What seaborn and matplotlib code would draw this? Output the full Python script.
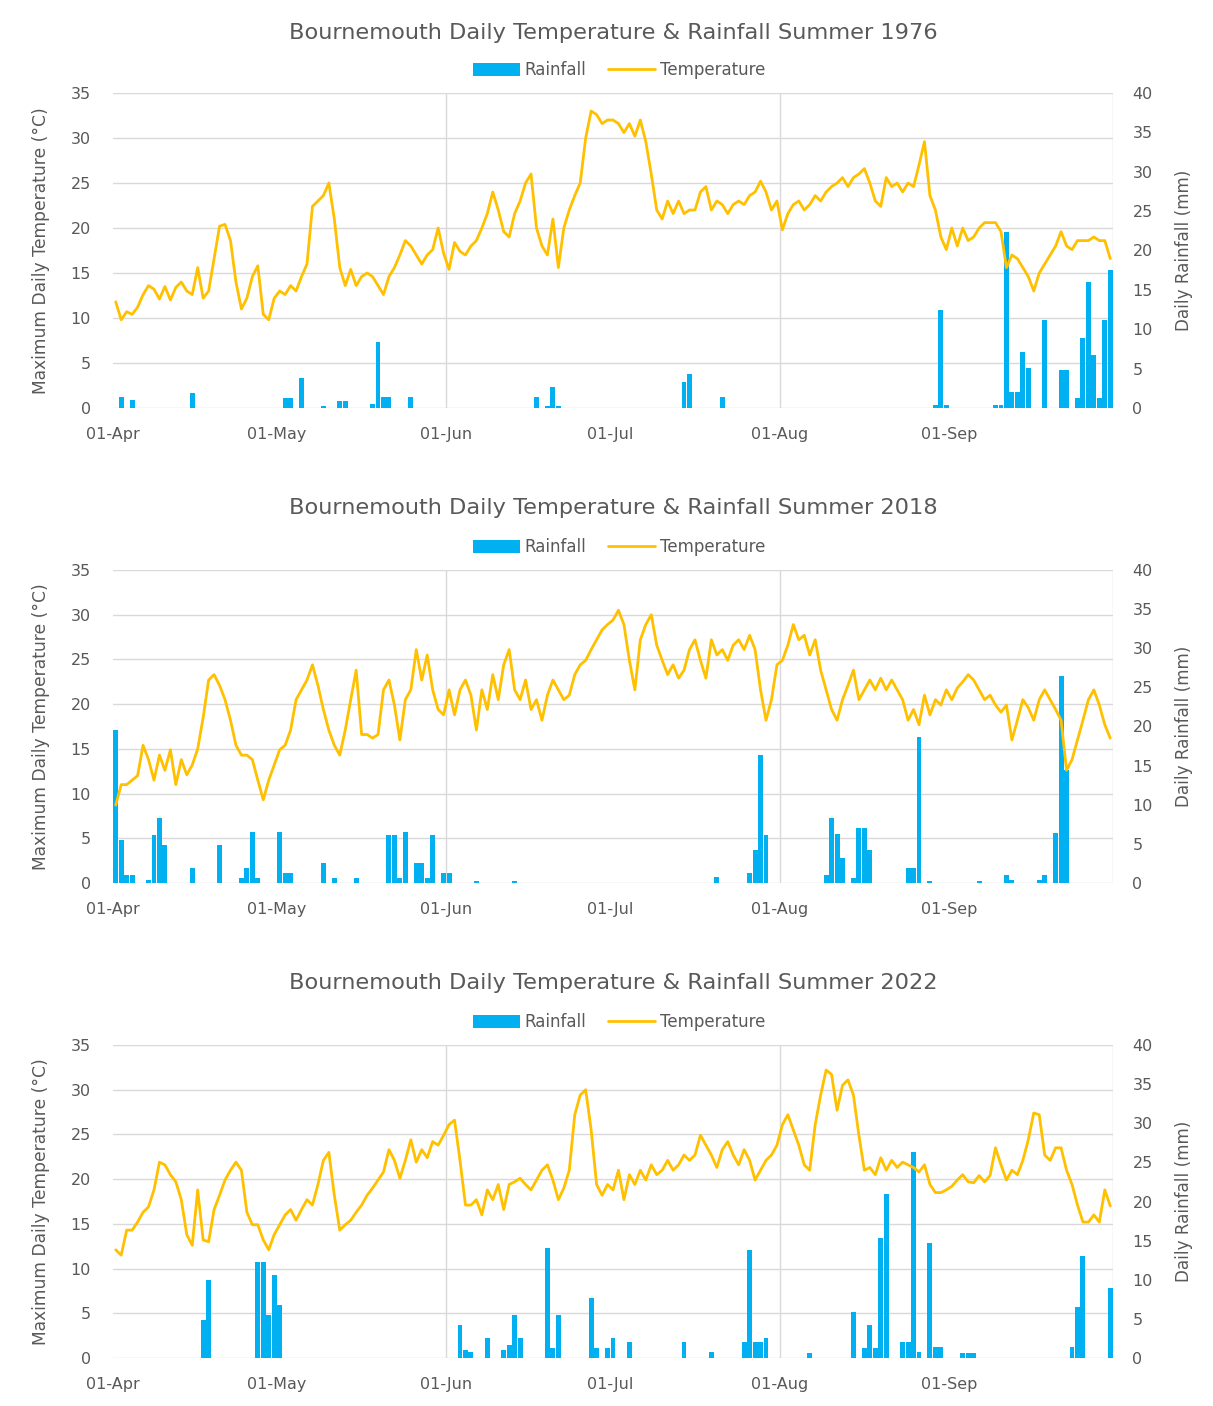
import numpy as np
import pandas as pd
import matplotlib
matplotlib.use("Agg")
import matplotlib.pyplot as plt
import seaborn as sns

sns.set_theme(style="white")
plt.rcParams["font.family"] = ["DejaVu Sans"]

# ---------------------------------------------------------------- data
month_labels = ["01-Apr", "01-May", "01-Jun", "01-Jul", "01-Aug", "01-Sep"]
month_start_days = [0, 30, 61, 91, 122, 153]   # day index of each month start (1 Apr = 0)
years = [1976, 2018, 2022]

# daily maximum temperature (°C), 1 Apr - 30 Sep
temp_1976 = (
    [11.8, 9.8, 10.7, 10.4, 11.2, 12.6, 13.6, 13.2, 12.1, 13.5, 12.0, 13.4, 14.0, 13.0, 12.6,
     15.6, 12.2, 13.0, 16.6, 20.2, 20.4, 18.6, 14.0, 11.0, 12.2, 14.6, 15.8, 10.4, 9.8, 12.2]
    + [13.0, 12.6, 13.6, 13.0, 14.6, 16.0, 22.4, 23.0, 23.6, 25.0, 21.0, 15.6, 13.6, 15.4, 13.6, 14.6,
       15.0, 14.6, 13.6, 12.6, 14.6, 15.6, 17.0, 18.6, 18.0, 17.0, 16.0, 17.0, 17.6, 20.0, 17.2]
    + [15.4, 18.4, 17.4, 17.0, 18.0, 18.6, 20.0, 21.6, 24.0, 22.0, 19.6, 19.0, 21.6, 23.0, 25.0,
       26.0, 20.0, 18.0, 17.0, 21.0, 15.6, 20.0, 22.0, 23.6, 25.0, 30.0, 33.0, 32.6, 31.6, 32.0]
    + [32.0, 31.6, 30.6, 31.6, 30.2, 32.0, 29.6, 26.0, 22.0, 21.0, 23.0, 21.6, 23.0, 21.6, 22.0, 22.0,
       24.0, 24.6, 22.0, 23.0, 22.6, 21.6, 22.6, 23.0, 22.6, 23.6, 24.0, 25.2, 24.0, 22.0, 23.0]
    + [19.8, 21.6, 22.6, 23.0, 22.0, 22.6, 23.6, 23.0, 24.0, 24.6, 25.0, 25.6, 24.6, 25.6, 26.0, 26.6,
       25.0, 23.0, 22.4, 25.6, 24.6, 25.0, 24.0, 25.0, 24.6, 27.0, 29.6, 23.6, 22.0, 19.0, 17.6]
    + [20.0, 18.0, 20.0, 18.6, 19.0, 20.0, 20.6, 20.6, 20.6, 19.6, 15.6, 17.0, 16.6, 15.6, 14.6,
       13.0, 15.0, 16.0, 17.0, 18.0, 19.6, 18.0, 17.6, 18.6, 18.6, 18.6, 19.0, 18.6, 18.6, 16.6]
)
temp_2018 = (
    [8.7, 11.0, 11.0, 11.5, 12.0, 15.4, 13.8, 11.5, 14.3, 12.6, 14.9, 11.0, 13.8, 12.1, 13.2,
     15.0, 18.5, 22.7, 23.3, 22.1, 20.5, 18.2, 15.4, 14.3, 14.3, 13.8, 11.5, 9.3, 11.5, 13.2]
    + [14.9, 15.4, 17.1, 20.5, 21.6, 22.7, 24.4, 22.1, 19.4, 17.1, 15.4, 14.3, 17.1, 20.5, 23.8, 16.6,
       16.6, 16.2, 16.6, 21.6, 22.7, 19.9, 16.0, 20.5, 21.6, 26.1, 22.7, 25.5, 21.6, 19.4, 18.8]
    + [21.6, 18.8, 21.6, 22.7, 21.0, 17.1, 21.6, 19.4, 23.3, 20.5, 24.4, 26.1, 21.6, 20.5, 22.7,
       19.4, 20.5, 18.2, 21.0, 22.7, 21.6, 20.5, 21.0, 23.3, 24.4, 24.9, 26.1, 27.2, 28.3, 28.9]
    + [29.4, 30.5, 28.9, 24.9, 21.6, 27.2, 28.9, 30.0, 26.6, 24.9, 23.3, 24.4, 22.9, 23.8, 26.1, 27.2,
       24.9, 22.9, 27.2, 25.5, 26.1, 24.9, 26.6, 27.2, 26.1, 27.7, 26.1, 21.6, 18.2, 20.5, 24.4]
    + [24.9, 26.6, 28.9, 27.2, 27.7, 25.5, 27.2, 23.8, 21.6, 19.4, 18.2, 20.5, 22.1, 23.8, 20.5, 21.6,
       22.7, 21.6, 22.9, 21.6, 22.7, 21.6, 20.5, 18.2, 19.4, 17.7, 21.0, 18.8, 20.5, 19.9, 21.6]
    + [20.5, 21.8, 22.5, 23.3, 22.7, 21.6, 20.5, 21.0, 19.9, 19.1, 19.9, 16.0, 18.2, 20.5, 19.6,
       18.2, 20.5, 21.6, 20.5, 19.4, 18.2, 12.6, 13.8, 16.0, 18.2, 20.5, 21.6, 19.9, 17.7, 16.2]
)
temp_2022 = (
    [12.1, 11.5, 14.3, 14.3, 15.2, 16.3, 16.9, 18.8, 21.9, 21.6, 20.5, 19.7, 17.7, 13.8, 12.6,
     18.8, 13.2, 13.0, 16.6, 18.2, 19.9, 21.0, 21.9, 21.0, 16.3, 14.9, 14.9, 13.2, 12.1, 13.8]
    + [14.9, 16.0, 16.6, 15.4, 16.6, 17.7, 17.1, 19.4, 22.1, 23.0, 18.2, 14.3, 14.9, 15.4, 16.3, 17.1,
       18.2, 19.0, 19.9, 20.8, 23.3, 22.1, 20.1, 22.1, 24.4, 21.9, 23.3, 22.4, 24.2, 23.8, 24.9]
    + [26.1, 26.6, 22.1, 17.1, 17.1, 17.7, 16.0, 18.8, 17.7, 19.4, 16.6, 19.4, 19.7, 20.1, 19.4,
       18.8, 19.9, 21.0, 21.6, 19.9, 17.7, 19.0, 21.0, 27.2, 29.4, 30.0, 25.5, 19.4, 18.2, 19.4]
    + [18.8, 21.0, 17.7, 20.5, 19.4, 21.0, 19.9, 21.6, 20.5, 21.0, 22.1, 21.0, 21.6, 22.7, 22.1, 22.7,
       24.9, 23.8, 22.7, 21.3, 23.3, 24.2, 22.7, 21.6, 23.3, 22.1, 19.9, 21.0, 22.1, 22.7, 23.8]
    + [26.1, 27.2, 25.5, 23.8, 21.6, 21.0, 26.1, 29.4, 32.2, 31.7, 27.7, 30.5, 31.1, 29.4, 24.9, 21.0,
       21.3, 20.5, 22.4, 21.0, 22.1, 21.3, 21.9, 21.6, 21.3, 20.8, 21.6, 19.4, 18.5, 18.5, 18.8]
    + [19.2, 19.9, 20.5, 19.7, 19.6, 20.4, 19.7, 20.4, 23.5, 21.6, 19.9, 21.0, 20.5, 22.1, 24.4,
       27.4, 27.2, 22.7, 22.1, 23.5, 23.5, 21.0, 19.4, 17.1, 15.2, 15.2, 16.0, 15.2, 18.8, 17.0]
)

# daily rainfall (mm), 1 Apr - 30 Sep
rain_1976 = (
    [0, 1.4, 0, 1.0, 0, 0, 0, 0, 0, 0, 0, 0, 0, 0, 1.9, 0, 0, 0, 0, 0, 0, 0, 0, 0, 0, 0, 0, 0, 0, 0]
    + [0, 1.3, 1.3, 0, 3.8, 0, 0, 0, 0.3, 0, 0, 0.9, 0.9, 0, 0, 0, 0, 0.5, 8.4, 1.4, 1.4, 0, 0, 0,
       1.4, 0, 0, 0, 0, 0, 0]
    + [0, 0, 0, 0, 0, 0, 0, 0, 0, 0, 0, 0, 0, 0, 0, 0, 1.4, 0, 0.3, 2.7, 0.3, 0, 0, 0, 0, 0, 0, 0, 0, 0]
    + [0, 0, 0, 0, 0, 0, 0, 0, 0, 0, 0, 0, 0, 3.3, 4.3, 0, 0, 0, 0, 0, 1.4, 0, 0, 0, 0, 0, 0, 0, 0, 0, 0]
    + [0, 0, 0, 0, 0, 0, 0, 0, 0, 0, 0, 0, 0, 0, 0, 0, 0, 0, 0, 0, 0, 0, 0, 0, 0, 0, 0, 0, 0.4, 12.4, 0.4]
    + [0, 0, 0, 0, 0, 0, 0, 0, 0.4, 0.4, 22.3, 2.0, 2.0, 7.1, 5.1, 0, 0, 11.2, 0, 0, 4.8, 4.8, 0, 1.3,
       8.9, 16.0, 6.7, 1.3, 11.2, 17.5]
)
rain_2018 = (
    [19.6, 5.5, 1.0, 1.0, 0, 0, 0.4, 6.1, 8.3, 4.9, 0, 0, 0, 0, 1.9, 0, 0, 0, 0, 4.9, 0, 0, 0, 0.6,
     1.9, 6.5, 0.6, 0, 0, 0]
    + [6.5, 1.3, 1.3, 0, 0, 0, 0, 0, 2.6, 0, 0.6, 0, 0, 0, 0.6, 0, 0, 0, 0, 0, 6.1, 6.1, 0.6, 6.5,
       0, 2.6, 2.6, 0.6, 6.1, 0, 1.3]
    + [1.3, 0, 0, 0, 0, 0.3, 0, 0, 0, 0, 0, 0, 0.3, 0, 0, 0, 0, 0, 0, 0, 0, 0, 0, 0, 0, 0, 0, 0, 0, 0]
    + [0, 0, 0, 0, 0, 0, 0, 0, 0, 0, 0, 0, 0, 0, 0, 0, 0, 0, 0, 0.8, 0, 0, 0, 0, 0, 1.3, 4.2, 16.4,
       6.1, 0, 0]
    + [0, 0, 0, 0, 0, 0, 0, 0, 1.0, 8.3, 6.2, 3.2, 0, 0.6, 7.0, 7.0, 4.2, 0, 0, 0, 0, 0, 0, 1.9, 1.9,
       18.7, 0, 0.3, 0, 0, 0]
    + [0, 0, 0, 0, 0, 0.3, 0, 0, 0, 0, 1.0, 0.4, 0, 0, 0, 0, 0.4, 1.0, 0, 6.4, 26.5, 14.4, 0, 0, 0,
       0, 0, 0, 0, 0]
)
rain_2022 = (
    [0, 0, 0, 0, 0, 0, 0, 0, 0, 0, 0, 0, 0, 0, 0, 0, 4.9, 10.0, 0, 0, 0, 0, 0, 0, 0, 0, 12.3, 12.3,
     5.5, 10.6]
    + [6.8, 0, 0, 0, 0, 0, 0, 0, 0, 0, 0, 0, 0, 0, 0, 0, 0, 0, 0, 0, 0, 0, 0, 0, 0, 0, 0, 0, 0, 0, 0]
    + [0, 0, 4.2, 1.0, 0.8, 0, 0, 2.6, 0, 0, 1.0, 1.6, 5.5, 2.6, 0, 0, 0, 0, 14.0, 1.3, 5.5, 0, 0, 0,
       0, 0, 7.7, 1.3, 0, 1.3]
    + [2.6, 0, 0, 2.0, 0, 0, 0, 0, 0, 0, 0, 0, 0, 2.0, 0, 0, 0, 0, 0.8, 0, 0, 0, 0, 0, 2.0, 13.8, 2.0,
       2.0, 2.6, 0, 0]
    + [0, 0, 0, 0, 0, 0.6, 0, 0, 0, 0, 0, 0, 0, 5.9, 0, 1.3, 4.2, 1.3, 15.3, 21.0, 0, 0, 2.0, 2.0,
       26.3, 0.8, 0, 14.7, 1.4, 1.4, 0]
    + [0, 0, 0.7, 0.7, 0.7, 0, 0, 0, 0, 0, 0, 0, 0, 0, 0, 0, 0, 0, 0, 0, 0, 0, 1.4, 6.5, 13.0, 0, 0,
       0, 0, 8.9]
)

temps = [temp_1976, temp_2018, temp_2022]
rains = [rain_1976, rain_2018, rain_2022]

# ---------------------------------------------------------------- style
TEXT = "#595959"
GRID = "#D9D9D9"
RAIN_C = "#00B0F0"
TEMP_C = "#FFC000"
TEMP_MAX, RAIN_MAX = 35, 40

W, H = 1213, 1406
fig = plt.figure(figsize=(W / 100, H / 100), dpi=100, facecolor="white")

# pixel layout of each panel: plot top, plot bottom, title y, legend y
panel_px = [(93, 408, 33, 70), (570, 883, 508, 547), (1045, 1358, 983, 1022)]
PLOT_L, PLOT_R = 113, 1113

for year, temp, rain, (top, bot, ty, ly) in zip(years, temps, rains, panel_px):
    df = pd.DataFrame({"day": np.arange(len(temp)), "temp": temp, "rain": rain})

    rect = [PLOT_L / W, 1 - bot / H, (PLOT_R - PLOT_L) / W, (bot - top) / H]
    ax_t = fig.add_axes(rect)          # temperature, left axis
    ax_r = ax_t.twinx()                # rainfall, right axis
    ax_t.set_zorder(ax_r.get_zorder() + 1)
    ax_t.patch.set_visible(False)

    # gridlines follow the temperature scale, drawn underneath the bars
    for t in range(0, TEMP_MAX + 1, 5):
        ax_r.axhline(t * RAIN_MAX / TEMP_MAX, color=GRID, lw=1.0, zorder=0)
    for d in (60.5, 121.5, 182.5):
        ax_r.axvline(d, color=GRID, lw=1.0, zorder=0)

    sns.barplot(data=df, x="day", y="rain", ax=ax_r, color=RAIN_C, saturation=1,
                width=0.9, native_scale=True, errorbar=None, linewidth=0, zorder=2)
    sns.lineplot(data=df, x="day", y="temp", ax=ax_t, color=TEMP_C, linewidth=2.0,
                 legend=False)

    ax_t.set_xlim(-0.5, 182.5)
    ax_t.set_ylim(0, TEMP_MAX)
    ax_r.set_ylim(0, RAIN_MAX)
    ax_t.set_yticks(range(0, TEMP_MAX + 1, 5))
    ax_r.set_yticks(range(0, RAIN_MAX + 1, 5))
    ax_t.set_xticks([s - 0.5 for s in month_start_days])
    ax_t.set_xticklabels(month_labels)
    ax_r.xaxis.set_visible(False)

    ax_t.tick_params(axis="x", length=0, pad=14, labelsize=11.5, labelcolor=TEXT)
    ax_t.tick_params(axis="y", length=0, pad=16, labelsize=11.5, labelcolor=TEXT)
    ax_r.tick_params(axis="y", length=0, pad=14, labelsize=11.5, labelcolor=TEXT)

    for a in (ax_t, ax_r):
        for s in a.spines.values():
            s.set_visible(False)
        a.grid(False)

    ax_t.set_xlabel("")
    ax_t.set_ylabel("Maximum Daily Temperature (°C)", color=TEXT, fontsize=12.3)
    ax_r.set_ylabel("Daily Rainfall (mm)", color=TEXT, fontsize=12.1, rotation=90)
    ax_t.yaxis.set_label_coords(-0.063, 0.5)
    ax_r.yaxis.set_label_coords(1.062, 0.5)

    fig.text(613 / W, 1 - ty / H,
             f"Bournemouth Daily Temperature & Rainfall Summer {year}",
             ha="center", va="center", fontsize=16.2, color=TEXT)

    fig.legend(handles=[ax_r.containers[0], ax_t.lines[0]],
               labels=["Rainfall", "Temperature"],
               loc="center", bbox_to_anchor=(619 / W, 1 - ly / H), ncol=2,
               frameon=False, fontsize=12, labelcolor=TEXT,
               handlelength=2.8, handleheight=0.8, handletextpad=0.3,
               columnspacing=1.3)

fig.savefig("out.png", dpi=100, facecolor="white")
